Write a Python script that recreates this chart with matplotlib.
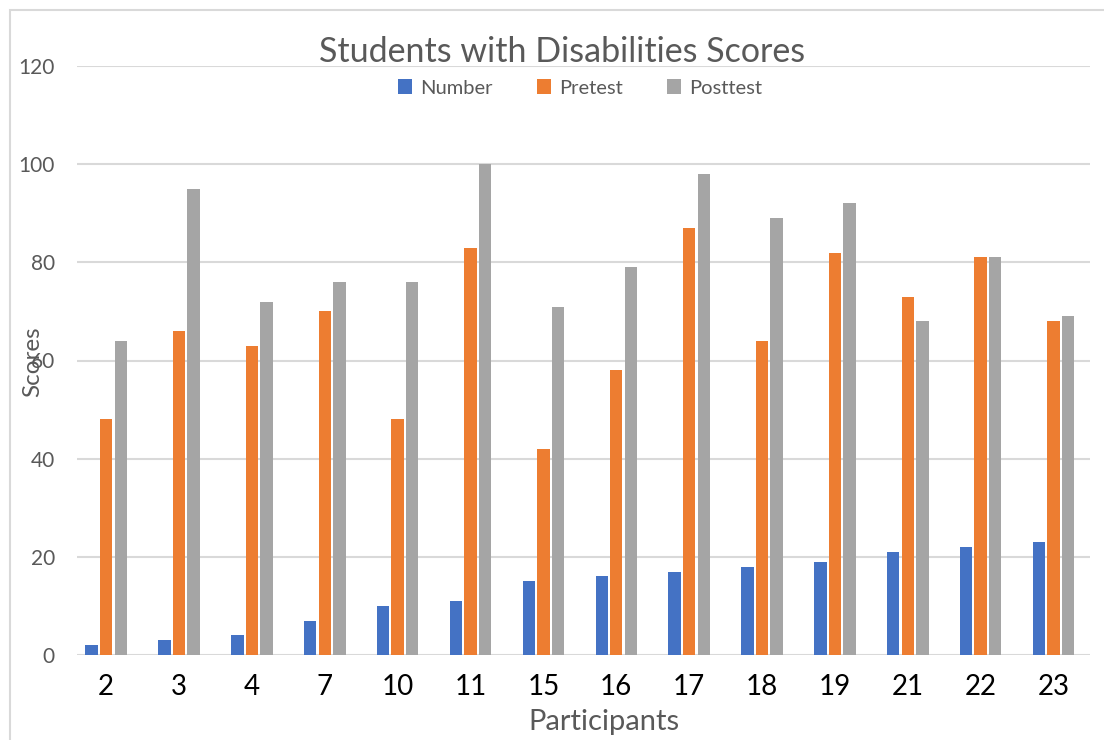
import numpy as np
import matplotlib
matplotlib.use("Agg")
import matplotlib.pyplot as plt
from matplotlib.patches import Rectangle

plt.rcParams['font.family'] = ['Lato', 'DejaVu Sans']

participants = ["2", "3", "4", "7", "10", "11", "15", "16", "17", "18", "19", "21", "22", "23"]
number = [2, 3, 4, 7, 10, 11, 15, 16, 17, 18, 19, 21, 22, 23]
pretest = [48, 66, 63, 70, 48, 83, 42, 58, 87, 64, 82, 73, 81, 68]
posttest = [64, 95, 72, 76, 76, 100, 71, 79, 98, 89, 92, 68, 81, 69]

series = [("Number", number, "#4472C4"),
          ("Pretest", pretest, "#ED7D31"),
          ("Posttest", posttest, "#A5A5A5")]

text_gray = "#595959"

fig = plt.figure(figsize=(11.04, 7.4), dpi=100)
ax = fig.add_axes([77 / 1104, 1 - 655 / 740, (1090 - 77) / 1104, (655 - 66) / 740])

x = np.arange(len(participants))
width = 0.17
for i, (name, vals, color) in enumerate(series):
    ax.bar(x + (i - 1) * 0.2, vals, width, color=color, label=name, zorder=3)

ax.set_xlim(-0.4, 13.5)
ax.set_ylim(0, 120)
ax.set_yticks(range(0, 121, 20))
ax.yaxis.grid(True, color="#d9d9d9", linewidth=1.5, zorder=0)
for s in ax.spines.values():
    s.set_visible(False)

ax.set_xticks(x)
ax.set_xticklabels(participants, fontsize=20, color="black")
ax.tick_params(axis="x", length=0, pad=14)
ax.tick_params(axis="y", length=0, pad=16, labelsize=15, labelcolor=text_gray)

fig.text(562 / 1104, 1 - 52 / 740, "Students with Disabilities Scores",
         fontsize=24.5, color=text_gray, ha="center", va="center")
fig.text(604 / 1104, 1 - 722 / 740, "Participants",
         fontsize=21, color=text_gray, ha="center", va="center")
fig.text(33 / 1104, 1 - 362 / 740, "Scores", rotation=90,
         fontsize=17.5, color=text_gray, ha="center", va="center")

ax.legend(loc="center", bbox_to_anchor=(580 / 1104, 1 - 88 / 740),
          bbox_transform=fig.transFigure, ncol=3, frameon=False,
          fontsize=14.5, labelcolor=text_gray, handlelength=0.7,
          handleheight=0.7, columnspacing=2.2, handletextpad=0.4)

fig.patches.append(Rectangle((10 / 1104, -0.1), 1.2, 1 - 10 / 740 + 0.1,
                             transform=fig.transFigure, fill=False,
                             edgecolor="#d9d9d9", linewidth=1.5))

fig.savefig("out.png", dpi=100)
